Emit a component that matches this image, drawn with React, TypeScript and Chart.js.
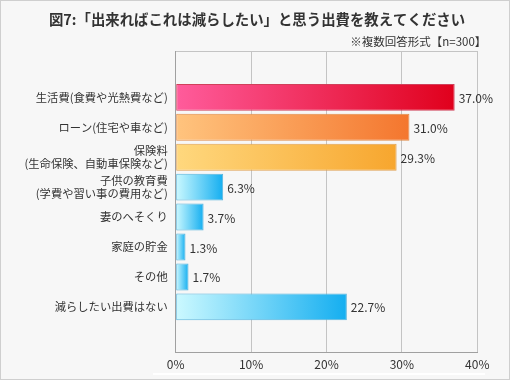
import React, { useEffect, useRef } from 'react';
import { Chart, registerables } from 'chart.js';

Chart.register(...registerables);

const chartTitle = '図7:「出来ればこれは減らしたい」と思う出費を教えてください';
const chartNote = '※複数回答形式【n=300】';
const categories: (string | string[])[] = [
  '生活費(食費や光熱費など)',
  'ローン(住宅や車など)',
  ['保険料', '(生命保険、自動車保険など)'],
  ['子供の教育費', '(学費や習い事の費用など)'],
  '妻のへそくり',
  '家庭の貯金',
  'その他',
  '減らしたい出費はない',
];
const values = [37.0, 31.0, 29.3, 6.3, 3.7, 1.3, 1.7, 22.7];
const xMin = 0;
const xMax = 40;
const xStep = 10;

const FONT = '"Noto Sans CJK JP", "Noto Sans", sans-serif';

function palette(i: number) {
  if (i === 0) return { from: '#ff5c9c', to: '#e0001c', border: '#d0405a' };
  if (i === 1) return { from: '#ffc47e', to: '#f4762e', border: '#e08a48' };
  if (i === 2) return { from: '#ffd87e', to: '#f7a62e', border: '#e0a050' };
  return { from: '#ccf9ff', to: '#14aef0', border: '#58b4dc' };
}

const headerPlugin = {
  id: 'header',
  afterDraw(chart: any) {
    const c = chart.ctx;
    c.save();
    c.fillStyle = '#333';
    c.textBaseline = 'middle';
    c.font = `bold 14.4px ${FONT}`;
    c.textAlign = 'center';
    c.fillText(chartTitle, chart.width / 2 + 2, 19.5);
    c.font = `11.5px ${FONT}`;
    c.textAlign = 'right';
    c.fillText(chartNote, chart.chartArea.right + 9, 42);
    c.restore();
  },
};

const valueLabelPlugin = {
  id: 'valueLabels',
  afterDatasetsDraw(chart: any) {
    const c = chart.ctx;
    const meta = chart.getDatasetMeta(0);
    c.save();
    c.fillStyle = '#333';
    c.font = `12px ${FONT}`;
    c.textAlign = 'left';
    c.textBaseline = 'middle';
    meta.data.forEach((bar: any, i: number) => {
      c.fillText(values[i].toFixed(1) + '%', bar.x + 4, bar.y + 1);
    });
    c.restore();
  },
};

export default function App() {
  const ref = useRef<HTMLCanvasElement | null>(null);

  useEffect(() => {
    if (!ref.current) return;
    const chart = new Chart(ref.current, {
      type: 'bar',
      data: {
        datasets: [
          {
            data: values.map((v, i) => ({ x: v, y: i })),
            backgroundColor: (ctx: any) => {
              const i = ctx.dataIndex ?? 0;
              const p = palette(i);
              const chart = ctx.chart;
              const xs = chart.scales?.x;
              if (!xs || !chart.chartArea) return p.to;
              const x0 = xs.getPixelForValue(0);
              const x1 = xs.getPixelForValue(values[i]);
              if (!isFinite(x0) || !isFinite(x1) || x1 <= x0) return p.to;
              const g = chart.ctx.createLinearGradient(x0, 0, x1, 0);
              g.addColorStop(0, p.from);
              g.addColorStop(1, p.to);
              return g;
            },
            borderColor: (ctx: any) => palette(ctx.dataIndex ?? 0).border,
            borderWidth: 1,
            borderSkipped: false,
            barPercentage: 0.9,
            categoryPercentage: 1,
          },
        ],
      },
      options: {
        indexAxis: 'y',
        responsive: false,
        animation: false,
        events: [],
        layout: { padding: { top: 51, right: 32.7, bottom: 0, left: 0 } },
        plugins: {
          legend: { display: false },
          title: { display: false },
          tooltip: { enabled: false },
        },
        scales: {
          x: {
            type: 'linear',
            position: 'bottom',
            min: xMin,
            max: xMax,
            ticks: {
              stepSize: xStep,
              callback: (v: any) => v + '%',
              color: '#333',
              font: { family: FONT, size: 12 },
              padding: 5,
              maxRotation: 0,
            },
            grid: { color: '#c4c4c4', lineWidth: 1, drawTicks: false },
            border: { display: true, color: '#a0a0a0' },
            afterFit: (s: any) => {
              s.height = 28;
            },
          },
          xTop: {
            type: 'linear',
            position: 'top',
            min: xMin,
            max: xMax,
            ticks: { display: false },
            grid: { display: false, drawTicks: false },
            border: { display: true, color: '#c4c4c4' },
            afterFit: (s: any) => {
              s.height = 0;
            },
          },
          y: {
            type: 'linear',
            reverse: true,
            min: -0.92,
            max: 7.88,
            ticks: {
              stepSize: 1,
              includeBounds: false,
              autoSkip: false,
              color: '#333',
              font: { family: FONT, size: 11.3 },
              padding: 8,
              callback: (v: any) => {
                const i = Number(v);
                return Number.isInteger(i) && categories[i] !== undefined ? categories[i] : '';
              },
            },
            grid: { display: false, drawTicks: false },
            border: { display: true, color: '#a0a0a0' },
            afterFit: (s: any) => {
              s.width = 175.7;
            },
          },
        },
      } as any,
      plugins: [headerPlugin, valueLabelPlugin],
    });
    return () => chart.destroy();
  }, []);

  return (
    <div
      style={{
        position: 'fixed',
        left: 0,
        top: 0,
        width: 510,
        height: 380,
        boxSizing: 'border-box',
        border: '1px solid #cfcfcf',
        background: '#f7f7f7',
      }}
    >
      <div style={{ position: 'absolute', left: 152, top: 372, width: 332, height: 2, background: '#ffffff' }} />
      <canvas
        ref={ref}
        width={510}
        height={380}
        style={{ position: 'absolute', left: -1, top: -1, width: 510, height: 380, display: 'block' }}
      />
    </div>
  );
}
